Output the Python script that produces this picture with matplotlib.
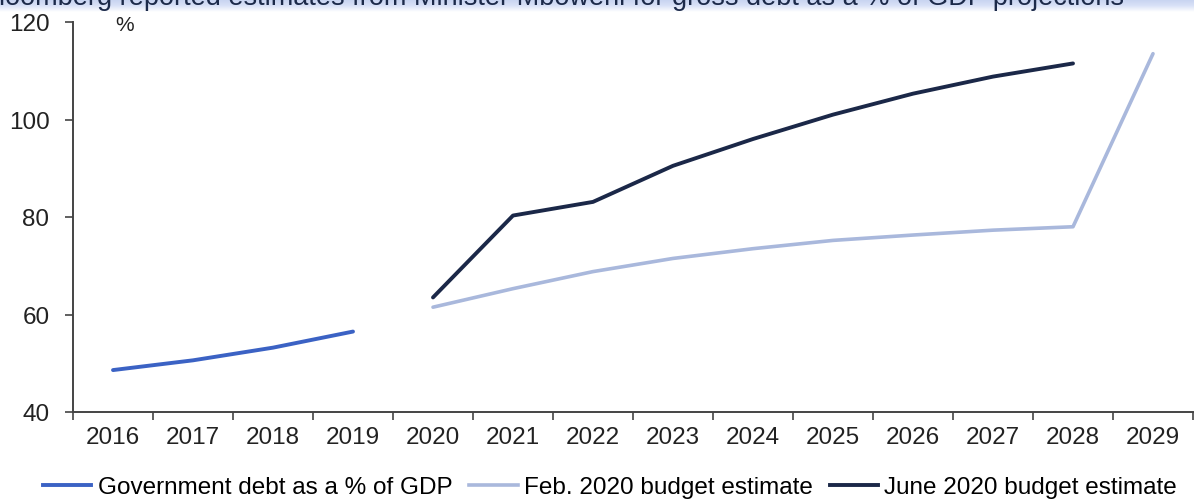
import matplotlib
matplotlib.use("Agg")
import matplotlib.pyplot as plt
import numpy as np
from matplotlib.colors import LinearSegmentedColormap
from matplotlib.lines import Line2D

years = ["2016", "2017", "2018", "2019", "2020", "2021", "2022", "2023",
         "2024", "2025", "2026", "2027", "2028", "2029"]
debt_actual = [48.6, 50.6, 53.2, 56.5]
feb_estimate = [61.5, 65.3, 68.8, 71.5, 73.5, 75.2, 76.3, 77.3, 78.0, 113.5]
june_estimate = [63.5, 80.3, 83.1, 90.5, 96.0, 101.0, 105.3, 108.8, 111.5]
yticks = [40, 60, 80, 100, 120]
title = "Bloomberg reported estimates from Minister Mboweni for gross debt as a % of GDP projections"

plt.rcParams['font.family'] = ['Liberation Sans', 'DejaVu Sans']

W, H = 1194, 502
fig = plt.figure(figsize=(W / 100, H / 100), dpi=100)

# title band (gradient)
band = fig.add_axes([0, 1 - 13 / H, 1, 13 / H])
grad = np.linspace(0, 1, 50).reshape(-1, 1)
cmap = LinearSegmentedColormap.from_list("b", ["#c6d2f0", "#d8e1f7", "#ffffff"])
band.imshow(grad, aspect='auto', cmap=cmap, extent=[0, 1, 0, 1], origin='upper')
band.axis('off')
fig.text(-19 / W, 1 - 5 / H, title, fontsize=19.5, color="#1c2a4a",
         ha='left', va='baseline')

ax = fig.add_axes([73 / W, (H - 413) / H, 1120 / W, 390 / H])
x = np.arange(len(years))

ax.plot(x[:4], debt_actual, color="#3b62c4", lw=2.8, solid_capstyle='round')
ax.plot(x[4:4 + len(feb_estimate)], feb_estimate, color="#a9b8dc", lw=2.6,
        solid_capstyle='round')
ax.plot(x[4:4 + len(june_estimate)], june_estimate, color="#1b2848", lw=2.8,
        solid_capstyle='round')

ax.set_xlim(-0.5, len(years) - 0.5)
ax.set_ylim(40, 120)
ax.set_yticks(yticks)
ax.set_yticklabels([str(v) for v in yticks], fontsize=17.5, color="#222222")
ax.set_xticks(np.arange(-0.5, len(years) - 0.4, 1.0))
ax.set_xticklabels([])
ax.set_xticks(x, minor=True)
ax.set_xticklabels(years, minor=True, fontsize=17.5, color="#222222")
ax.tick_params(axis='x', which='minor', length=0, pad=10)
ax.tick_params(axis='x', which='major', length=6, width=1.2, color="#444444", direction='out')
ax.tick_params(axis='y', length=6, width=1.2, color="#444444", pad=11)
for s in ['top', 'right']:
    ax.spines[s].set_visible(False)
for s in ['left', 'bottom']:
    ax.spines[s].set_color("#444444")
    ax.spines[s].set_linewidth(1.4)

ax.text(0.15, 119.4, "%", fontsize=15, color="#222222", ha='center', va='center')

handles = [Line2D([], [], color="#3b62c4", lw=2.8),
           Line2D([], [], color="#a9b8dc", lw=2.6),
           Line2D([], [], color="#1b2848", lw=2.8)]
labels = ["Government debt as a % of GDP", "Feb. 2020 budget estimate",
          "June 2020 budget estimate"]
fig.legend(handles, labels, loc='center', bbox_to_anchor=(610 / W, 1 - 488 / H),
           ncol=3, frameon=False, fontsize=17.5, handlelength=2.0,
           handletextpad=0.25, columnspacing=0.7, borderaxespad=0, borderpad=0)

fig.savefig("out.png", dpi=100)
